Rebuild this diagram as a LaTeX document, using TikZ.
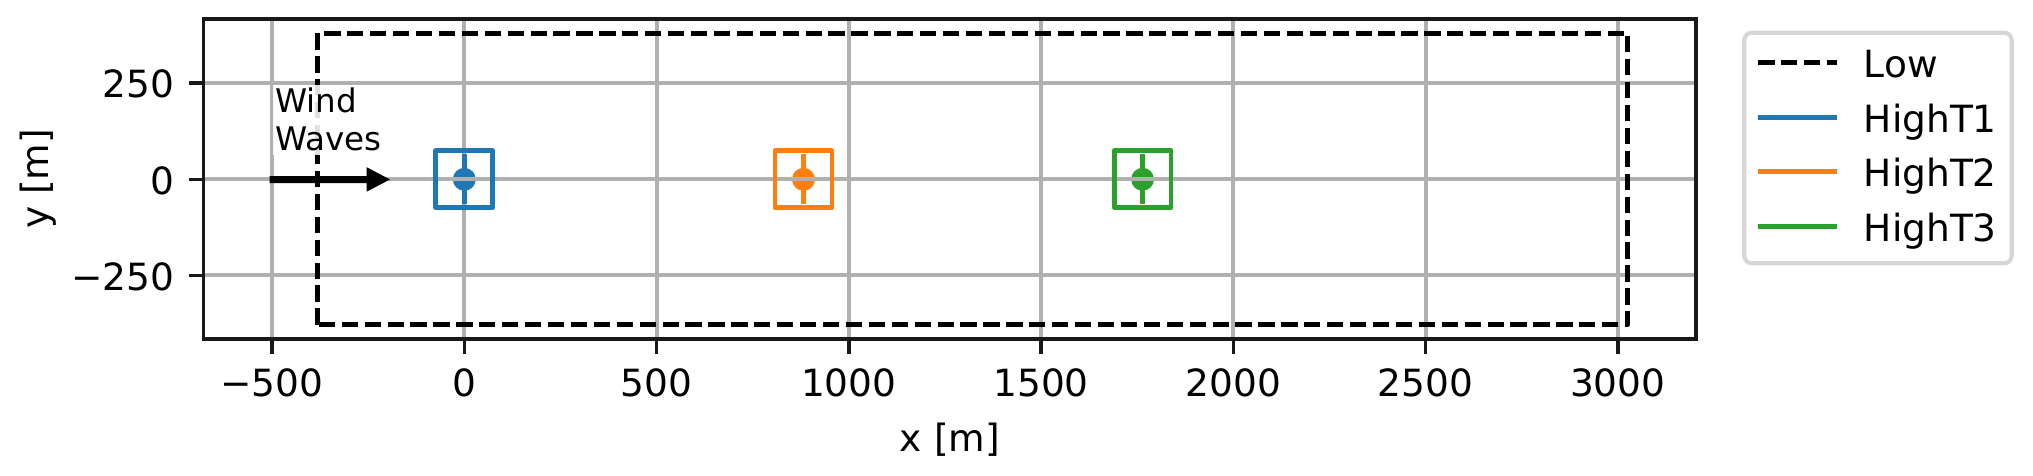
\documentclass[tikz,border=0pt]{standalone}
\usepackage{fontspec}
\setmainfont{DejaVu Sans}
\definecolor{tabblue}{HTML}{1F77B4}
\definecolor{taborange}{HTML}{FF7F0E}
\definecolor{tabgreen}{HTML}{2CA02C}
\definecolor{gridgray}{HTML}{B0B0B0}
\definecolor{legframe}{HTML}{D6D6D6}
\tikzset{
  gridline/.style={draw=gridgray, line width=0.95pt},
  spine/.style={draw=black!90, line width=0.85pt},
  ticklbl/.style={inner sep=0pt, font=\fontsize{9}{10.8}\selectfont},
  lowline/.style={draw=black, line width=1.25pt, dash pattern=on 3.9pt off 1.6pt, line join=round},
  hiline/.style={line width=1.15pt},
  annot/.style={inner sep=0pt, font=\fontsize{7.8}{9.4}\selectfont},
}
\begin{document}
\begin{tikzpicture}[x=0.24pt,y=-0.24pt]
\useasboundingbox (0,0) rectangle (2033,475);
% ---------------- data area ----------------
\begin{scope}[shift={(464.3,179.3)},x=0.092278pt,y=0.092278pt]
  \foreach \tx/\col in {0/tabblue, 882/taborange, 1764/tabgreen}
    \fill[\col] (\tx,0) circle[radius=2.75pt];
  \foreach \gx in {-500,0,...,3000}
    \draw[gridline] (\gx,-415.3) -- (\gx,416.9);
  \foreach \tx/\col in {0/tabblue, 882/taborange, 1764/tabgreen}
    \draw[hiline,\col] (\tx,-65) -- (\tx,65);
  \foreach \gy in {-250,0,250}
    \draw[gridline] (-677.8,\gy) -- (3203,\gy);
  \foreach \tx/\col in {0/tabblue, 882/taborange, 1764/tabgreen}
    \draw[hiline,\col,line join=round] (\tx-74,-74) rectangle (\tx+74,74);
  \draw[lowline] (-381.3,-378) rectangle (3025.8,379.5);
  % frame and ticks
  \draw[spine] (-677.8,-415.3) rectangle (3203,416.9);
  \foreach \gx in {-500,0,...,3000}
    \draw[spine] (\gx,-415.3) -- ++(0,-3.5pt);
  \foreach \gy in {-250,0,250}
    \draw[spine] (-677.8,\gy) -- ++(-3.5pt,0);
\end{scope}
% ---------------- wind arrow and text ----------------
\coordinate (arrS) at (269.5,179.5);
\coordinate (arrT) at (390,179.5);
\fill[black] (269.5,176) -- (366.7,176) -- (366.7,167.2) -- (arrT)
   -- (366.7,191.6) -- (366.7,183) -- (269.5,183) -- cycle;
\fill[white, opacity=0.88] (273.3,85) rectangle (383,155);
\node[annot, anchor=base west] (wind) at (274.5,112.7) {Wind};
\node[annot, anchor=base west] (waves) at (274.5,150.7) {Waves};
% ---------------- tick labels ----------------
\foreach \px/\lab [count=\i] in {272.05/−500, 464.3/0, 656.55/500, 848.8/1000,
    1041.05/1500, 1233.3/2000, 1425.55/2500, 1617.8/3000}
  \node[ticklbl, anchor=base] (xt\i) at (\px,396.7) {\lab};
\foreach \py/\lab [count=\i] in {97.5/250, 194/0, 290/−250}
  \node[ticklbl, anchor=base east] (yt\i) at (175,\py) {\lab};
\node[ticklbl, anchor=base] (xlab) at (949.9,451) {x [m]};
\node[ticklbl, anchor=base, rotate=90] (ylab) at (48.4,179) {y [m]};
% ---------------- legend ----------------
\draw[draw=legframe, fill=white, line width=1pt, rounded corners=1.8pt]
  (1744.3,32.7) rectangle (2011.7,263.3);
\coordinate (l1a) at (1758.3,62.3);   \coordinate (l1b) at (1836.7,62.3);
\coordinate (l2a) at (1758.3,117.3);  \coordinate (l2b) at (1836.7,117.3);
\coordinate (l3a) at (1758.3,171.7);  \coordinate (l3b) at (1836.7,171.7);
\coordinate (l4a) at (1758.3,226.7);  \coordinate (l4b) at (1836.7,226.7);
\draw[lowline] (l1a) -- (l1b);
\draw[hiline, tabblue] (l2a) -- (l2b);
\draw[hiline, taborange] (l3a) -- (l3b);
\draw[hiline, tabgreen] (l4a) -- (l4b);
\node[ticklbl, anchor=base west] (lg1) at (1863,77.3) {Low};
\node[ticklbl, anchor=base west] (lg2) at (1863,132.3) {HighT1};
\node[ticklbl, anchor=base west] (lg3) at (1863,186.7) {HighT2};
\node[ticklbl, anchor=base west] (lg4) at (1863,241.7) {HighT3};
\end{tikzpicture}
\end{document}
